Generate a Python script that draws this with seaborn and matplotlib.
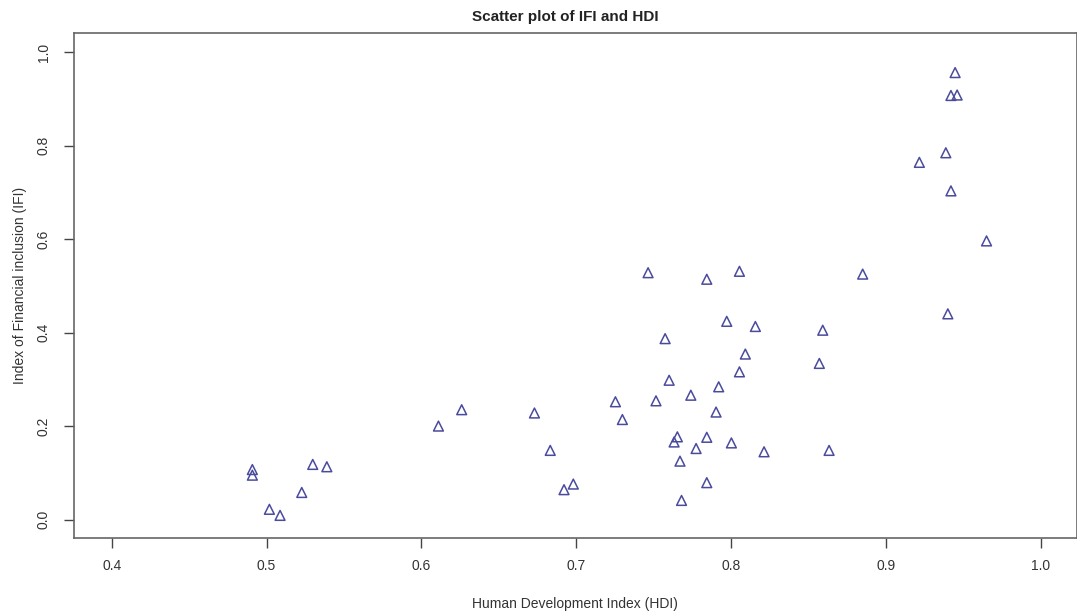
import matplotlib
matplotlib.use("Agg")
import matplotlib.pyplot as plt
import seaborn as sns
import pandas as pd

# HDI and IFI values
hdi = [0.9447, 0.942, 0.946, 0.9387, 0.9216, 0.942, 0.965,
       0.7464, 0.7843, 0.8054, 0.885, 0.7972, 0.8157, 0.8592, 0.7574,
       0.8092, 0.857, 0.8054, 0.760, 0.792, 0.774, 0.7515, 0.7253,
       0.7298, 0.7903, 0.7653, 0.7632, 0.7843, 0.7774, 0.8002, 0.8213,
       0.8633, 0.767, 0.7843, 0.768,
       0.4908, 0.4908, 0.5298, 0.5389, 0.5227, 0.5018, 0.5087,
       0.611, 0.626, 0.673, 0.6832, 0.6921, 0.6981, 0.940]
ifi = [0.956, 0.907, 0.908, 0.7845, 0.764, 0.703, 0.596,
       0.528, 0.514, 0.531, 0.525, 0.424, 0.413, 0.405, 0.387,
       0.354, 0.334, 0.316, 0.298, 0.284, 0.266, 0.254, 0.252,
       0.214, 0.230, 0.177, 0.166, 0.176, 0.152, 0.164, 0.145,
       0.148, 0.125, 0.079, 0.041,
       0.107, 0.095, 0.118, 0.113, 0.058, 0.022, 0.009,
       0.200, 0.235, 0.228, 0.148, 0.064, 0.076, 0.440]

x_ticks = [0.4, 0.5, 0.6, 0.7, 0.8, 0.9, 1.0]
y_ticks = [0.0, 0.2, 0.4, 0.6, 0.8, 1.0]

df = pd.DataFrame({"HDI": hdi, "IFI": ifi})

sns.set_style("white")
plt.rcParams["font.family"] = ["Liberation Sans", "DejaVu Sans"]

fig = plt.figure(figsize=(10.77, 6.13), dpi=100)
ax = fig.add_axes([74.3 / 1077, 74.7 / 613, 1002.2 / 1077, 505 / 613])

sns.scatterplot(data=df, x="HDI", y="IFI", ax=ax, marker="^", s=50,
                facecolors="none", edgecolor="#4b4b9e", linewidth=1.1)

ax.set_xlim(0.3758, 1.0231)
ax.set_ylim(-0.04, 1.04)
ax.set_xticks(x_ticks)
ax.set_xticklabels([f"{v:.1f}" for v in x_ticks])
ax.set_yticks(y_ticks)
ax.set_yticklabels([f"{v:.1f}" for v in y_ticks], rotation=90, va="center")
ax.tick_params(direction="out", length=7, width=1, color="#444444",
               labelsize=10, labelcolor="#333333",
               bottom=True, left=True)
ax.tick_params(axis="x", pad=8)
ax.tick_params(axis="y", pad=10)

for side in ["left", "bottom", "top", "right"]:
    ax.spines[side].set_color("#666666")
    ax.spines[side].set_linewidth(1.2)

ax.set_xlabel("Human Development Index (HDI)", fontsize=10, color="#333333",
              labelpad=17)
ax.set_ylabel("Index of Financial inclusion (IFI)", fontsize=10,
              color="#333333", labelpad=7)
ax.set_title("Scatter plot of IFI and HDI", fontsize=11, fontweight="bold",
             color="#222222", pad=9, x=0.49)

fig.savefig("out.png", dpi=100)
